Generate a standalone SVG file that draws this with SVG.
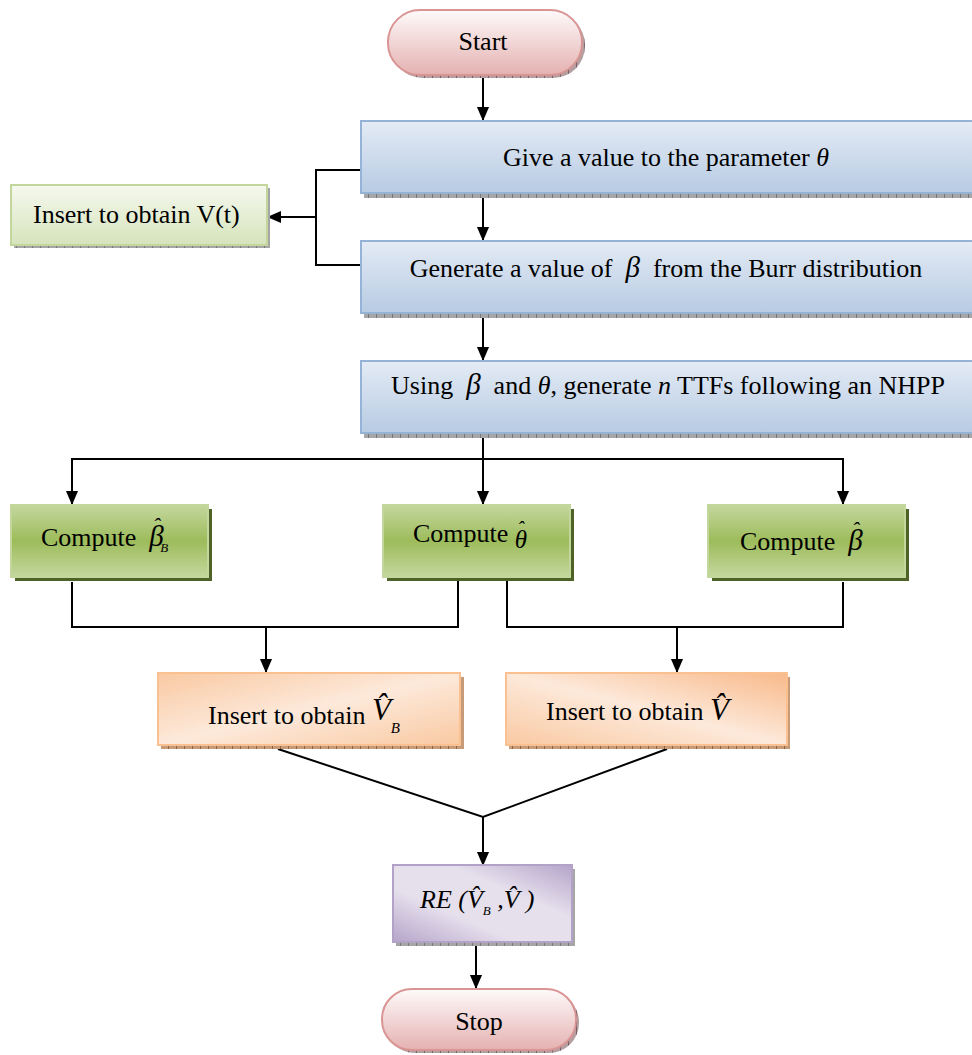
<svg xmlns="http://www.w3.org/2000/svg" width="972" height="1055" viewBox="0 0 972 1055">
<style>
  .t{font-family:"Liberation Serif","Times New Roman",serif;font-size:26px;fill:#000}
  .m{font-family:"Liberation Serif","Times New Roman",serif;font-style:italic;fill:#000}
  .c{text-anchor:middle}
  .ln{fill:none;stroke:#000;stroke-width:2}
  .ar{fill:none;stroke:#000;stroke-width:2;marker-end:url(#ah)}
</style>
<defs>
  <marker id="ah" markerWidth="14" markerHeight="16" refX="15" refY="7" orient="auto" markerUnits="userSpaceOnUse" viewBox="0 0 16 14">
    <path d="M0,0 L16,7 L0,14 Z" fill="#000"/>
  </marker>
  <pattern id="hg" width="8" height="4" patternUnits="userSpaceOnUse">
    <rect width="8" height="4" fill="#a6a6a6"/><rect x="0" y="0" width="1" height="4" fill="#777"/>
  </pattern>
  <pattern id="hb" width="8" height="4" patternUnits="userSpaceOnUse">
    <rect width="8" height="4" fill="#c79a78"/><rect x="0" y="0" width="1" height="4" fill="#8c6242"/>
  </pattern>
  <pattern id="hp" width="8" height="4" patternUnits="userSpaceOnUse">
    <rect width="8" height="4" fill="#b39ea0"/><rect x="0" y="0" width="1" height="4" fill="#7a6062"/>
  </pattern>
  <linearGradient id="gPink" x1="0" y1="0" x2="0" y2="1">
    <stop offset="0" stop-color="#fefafa"/><stop offset="1" stop-color="#e5b1b1"/>
  </linearGradient>
  <linearGradient id="gBlue" x1="0" y1="0" x2="0" y2="1">
    <stop offset="0" stop-color="#e4ebf5"/><stop offset="1" stop-color="#b7cbe3"/>
  </linearGradient>
  <linearGradient id="gLG" x1="0" y1="0" x2="0" y2="1">
    <stop offset="0" stop-color="#f6f9ef"/><stop offset="1" stop-color="#d6e3bb"/>
  </linearGradient>
  <linearGradient id="gG" x1="0" y1="0" x2="0" y2="1">
    <stop offset="0" stop-color="#c4d79e"/><stop offset="0.5" stop-color="#9dbc5b"/><stop offset="1" stop-color="#c4d79e"/>
  </linearGradient>
  <linearGradient id="gO" x1="0" y1="0" x2="1" y2="1">
    <stop offset="0" stop-color="#f9c9a2"/><stop offset="0.5" stop-color="#fde9da"/><stop offset="1" stop-color="#f9c9a2"/>
  </linearGradient>
  <linearGradient id="gO2" x1="1" y1="0" x2="0" y2="1">
    <stop offset="0" stop-color="#f8b98a"/><stop offset="0.5" stop-color="#fde9da"/><stop offset="1" stop-color="#f9c9a2"/>
  </linearGradient>
  <linearGradient id="gP" x1="0" y1="1" x2="1" y2="0">
    <stop offset="0" stop-color="#b5a4c9"/><stop offset="0.35" stop-color="#e6e0ed"/><stop offset="0.65" stop-color="#e6e0ed"/><stop offset="1" stop-color="#b5a4c9"/>
  </linearGradient>
</defs>

<g id="connectors">
  <line class="ar" x1="483" y1="75" x2="483" y2="120"/>
  <polyline class="ln" points="361,170 316,170 316,265 361,265"/>
  <line class="ar" x1="316" y1="217" x2="268" y2="217"/>
  <line class="ar" x1="483" y1="196" x2="483" y2="240"/>
  <line class="ar" x1="483" y1="316" x2="483" y2="360"/>
  <line class="ln" x1="483" y1="436" x2="483" y2="459"/>
  <polyline class="ln" points="72,490 72,459 843,459 843,490"/>
  <line class="ar" x1="72" y1="459" x2="72" y2="504"/>
  <line class="ar" x1="483" y1="459" x2="483" y2="504"/>
  <line class="ar" x1="843" y1="459" x2="843" y2="504"/>
  <polyline class="ln" points="72,582 72,627 458,627 458,578"/>
  <polyline class="ln" points="507,578 507,627 843,627 843,582"/>
  <line class="ar" x1="266" y1="627" x2="266" y2="672"/>
  <line class="ar" x1="677" y1="627" x2="677" y2="672"/>
  <polyline class="ln" points="278,749 483,817 667,749"/>
  <line class="ar" x1="483" y1="817" x2="483" y2="865"/>
  <line class="ar" x1="476" y1="945" x2="476" y2="988"/>
</g>

<g id="start">
  <rect x="391" y="13" width="194" height="65" rx="32" fill="url(#hp)"/>
  <rect x="388" y="10" width="194" height="65" rx="32" fill="url(#gPink)" stroke="#d99594" stroke-width="2"/>
  <text class="t c" x="483" y="50">Start</text>
</g>

<g id="theta">
  <rect x="364" y="193" width="608" height="5" fill="url(#hg)"/>
  <rect x="361" y="121" width="612" height="72" fill="url(#gBlue)" stroke="#95b3d7" stroke-width="2"/>
  <text class="t c" x="666" y="166">Give a value to the parameter <tspan class="m">θ</tspan></text>
</g>

<g id="vt">
  <rect x="14" y="188" width="256" height="60" fill="url(#hg)"/>
  <rect x="11" y="185" width="256" height="60" fill="url(#gLG)" stroke="#c3d69b" stroke-width="2"/>
  <text class="t" x="33" y="223">Insert to obtain V(t)</text>
</g>

<g id="beta">
  <rect x="364" y="313" width="608" height="5" fill="url(#hg)"/>
  <rect x="361" y="241" width="612" height="72" fill="url(#gBlue)" stroke="#95b3d7" stroke-width="2"/>
  <text class="t c" x="666" y="277" xml:space="preserve">Generate a value of  <tspan class="m" font-size="29">β</tspan>  from the Burr distribution</text>
</g>

<g id="nhpp">
  <rect x="364" y="433" width="608" height="5" fill="url(#hg)"/>
  <rect x="361" y="361" width="612" height="72" fill="url(#gBlue)" stroke="#95b3d7" stroke-width="2"/>
  <text class="t c" x="668" y="394" xml:space="preserve">Using  <tspan class="m" font-size="29">β</tspan>  and <tspan class="m">θ</tspan>, generate <tspan class="m">n</tspan> TTFs following an NHPP</text>
</g>

<g id="computeBB">
  <rect x="15" y="509" width="197" height="72" fill="#4f6228"/>
  <rect x="11" y="505" width="197" height="72" fill="url(#gG)" stroke="#c3d69b" stroke-width="2"/>
  <text class="t" x="41" y="546" xml:space="preserve">Compute  <tspan class="m" font-size="29">β</tspan><tspan class="m" font-size="22" dx="-11" dy="-13">ˆ</tspan><tspan class="m" font-size="13" dx="0" dy="19">B</tspan></text>
</g>

<g id="computeTheta">
  <rect x="387" y="509" width="187" height="72" fill="#4f6228"/>
  <rect x="383" y="505" width="187" height="72" fill="url(#gG)" stroke="#c3d69b" stroke-width="2"/>
  <text class="t" x="413" y="542" xml:space="preserve">Compute <tspan class="m" font-size="25" dy="6">θ</tspan><tspan class="m" font-size="20" dx="-10" dy="-12">ˆ</tspan></text>
</g>

<g id="computeB">
  <rect x="712" y="509" width="197" height="72" fill="#4f6228"/>
  <rect x="708" y="505" width="197" height="72" fill="url(#gG)" stroke="#c3d69b" stroke-width="2"/>
  <text class="t" x="740" y="550" xml:space="preserve">Compute  <tspan class="m" font-size="29">β</tspan><tspan class="m" font-size="22" dx="-11" dy="-13">ˆ</tspan></text>
</g>

<g id="insertVB">
  <rect x="161" y="677" width="303" height="72" fill="url(#hb)"/>
  <rect x="158" y="673" width="302" height="72" fill="url(#gO)" stroke="#fac090" stroke-width="2"/>
  <text class="t" x="208" y="724">Insert to obtain <tspan class="m" font-size="31" dy="-4">V̂</tspan><tspan class="m" font-size="15" dy="13">B</tspan></text>
</g>

<g id="insertV">
  <rect x="509" y="677" width="281" height="72" fill="url(#hb)"/>
  <rect x="506" y="673" width="281" height="72" fill="url(#gO2)" stroke="#fac090" stroke-width="2"/>
  <text class="t" x="546" y="720">Insert to obtain <tspan class="m" font-size="31">V̂</tspan></text>
</g>

<g id="re">
  <rect x="396" y="869" width="179" height="77" fill="url(#hg)"/>
  <rect x="393" y="865" width="179" height="77" fill="url(#gP)" stroke="#b3a2c7" stroke-width="2"/>
  <text class="m" x="420" y="908" font-size="26" xml:space="preserve">RE <tspan class="t">(</tspan>V̂<tspan font-size="13" dy="7">B</tspan><tspan class="t" dy="-7"> ,</tspan>V̂ <tspan class="t">)</tspan></text>
</g>

<g id="stop">
  <rect x="385" y="992" width="194" height="61" rx="30" fill="url(#hp)"/>
  <rect x="382" y="989" width="194" height="61" rx="30" fill="url(#gPink)" stroke="#d99594" stroke-width="2"/>
  <text class="t c" x="479" y="1030">Stop</text>
</g>
</svg>
